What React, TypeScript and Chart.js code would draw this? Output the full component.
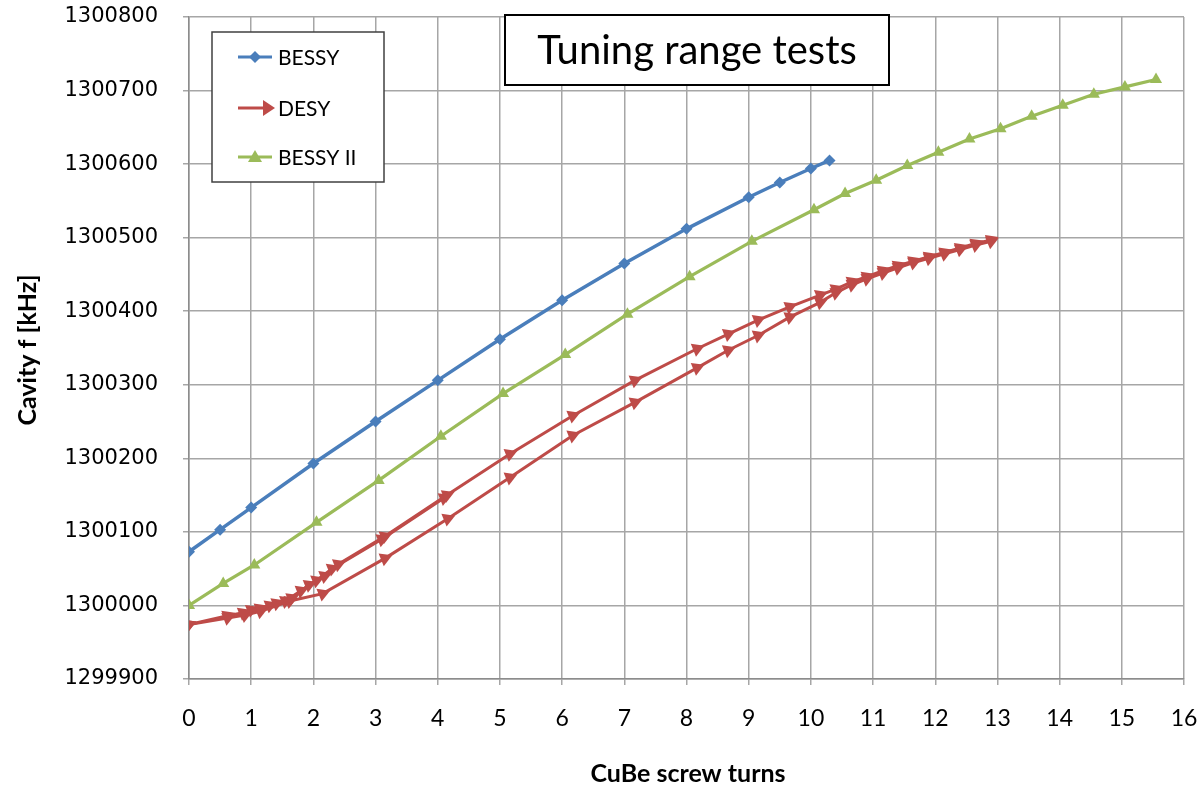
import React, { useEffect, useRef } from 'react';
import { Chart, registerables } from 'chart.js';

Chart.register(...registerables);

// ---- Data ----
const bessyX = [0, 0.5, 1.0, 2.0, 3.0, 4.0, 5.0, 6.0, 7.0, 8.0, 9.0, 9.5, 10.0, 10.3];
const bessyY = [1300073, 1300103, 1300133, 1300193, 1300250, 1300306, 1300362, 1300415, 1300465, 1300512, 1300555, 1300575, 1300594, 1300605];

const bessy2X = [0, 0.55, 1.05, 2.05, 3.05, 4.05, 5.05, 6.05, 7.05, 8.05, 9.05, 10.05, 10.55, 11.05, 11.55, 12.05, 12.55, 13.05, 13.55, 14.05, 14.55, 15.05, 15.55];
const bessy2Y = [1300000, 1300030, 1300055, 1300113, 1300170, 1300230, 1300288, 1300341, 1300396, 1300447, 1300495, 1300538, 1300560, 1300578, 1300598, 1300616, 1300634, 1300648, 1300665, 1300680, 1300695, 1300705, 1300715];

// DESY run A (upper branch)
const desyAX = [0, 0.62, 0.87, 1.14, 1.41, 1.65, 1.93, 2.18, 2.4, 3.15, 4.15, 5.16, 6.17, 7.17, 8.17, 8.67, 9.15, 9.66, 10.15, 10.4, 10.66, 10.9, 11.16, 11.4, 11.65, 11.9, 12.15, 12.4, 12.65, 12.9];
const desyAY = [1299974, 1299986, 1299990, 1299996, 1300003, 1300010, 1300028, 1300040, 1300056, 1300094, 1300150, 1300206, 1300258, 1300306, 1300349, 1300369, 1300388, 1300406, 1300422, 1300430, 1300440, 1300447, 1300455, 1300462, 1300468, 1300474, 1300480, 1300486, 1300492, 1300497];

// DESY run B (lower branch)
const desyBX = [0, 0.62, 0.9, 1.15, 1.62, 2.15, 3.15, 4.16, 5.16, 6.17, 7.17, 8.17, 8.67, 9.15, 9.66, 10.15, 10.4, 10.66, 10.9, 11.16, 11.4, 11.65, 11.9, 12.15, 12.4, 12.65, 12.9];
const desyBY = [1299974, 1299983, 1299987, 1299992, 1300006, 1300016, 1300064, 1300118, 1300174, 1300231, 1300276, 1300323, 1300347, 1300367, 1300392, 1300412, 1300425, 1300436, 1300444, 1300452, 1300459, 1300466, 1300472, 1300478, 1300484, 1300490, 1300495];

// DESY run C (short run, overlapping the start of run A)
const desyCX = [1.0, 1.3, 1.55, 1.8, 2.05, 2.3, 3.1, 4.1];
const desyCY = [1299994, 1300000, 1300006, 1300020, 1300034, 1300050, 1300090, 1300146];

const xTickMin = 0;
const xTickMax = 16;
const yTickMin = 1299900;
const yTickMax = 1300800;

const titleText = 'Tuning range tests';
const xTitle = 'CuBe screw turns';
const yTitle = 'Cavity f [kHz]';
const legendLabels = ['BESSY', 'DESY', 'BESSY II'];

const BLUE = '#4A7EBB';
const RED = '#BE4B48';
const GREEN = '#9BBB59';

const toPts = (xs: number[], ys: number[]) => xs.map((x, i) => ({ x, y: ys[i] }));

const overlay = {
  id: 'overlay',
  afterDraw(chart: any) {
    const ctx = chart.ctx as CanvasRenderingContext2D;
    ctx.save();
    // axis titles
    ctx.fillStyle = '#000';
    ctx.font = 'bold 25px Lato';
    ctx.textAlign = 'center';
    ctx.textBaseline = 'middle';
    ctx.fillText(xTitle, 688, 774);
    ctx.save();
    ctx.translate(28, 350);
    ctx.rotate(-Math.PI / 2);
    ctx.fillText(yTitle, 0, 0);
    ctx.restore();

    // title box
    ctx.fillStyle = '#fff';
    ctx.fillRect(505, 15, 384, 70);
    ctx.strokeStyle = '#000';
    ctx.lineWidth = 2;
    ctx.strokeRect(505, 15, 384, 70);
    ctx.fillStyle = '#000';
    ctx.font = '40px Lato';
    ctx.fillText(titleText, 697, 51);

    // legend box
    ctx.fillStyle = '#fff';
    ctx.fillRect(212, 32, 172, 150);
    ctx.strokeStyle = '#404040';
    ctx.lineWidth = 1.5;
    ctx.strokeRect(212, 32, 172, 150);
    const ys = [57, 108, 157];
    const cols = [BLUE, RED, GREEN];
    ys.forEach((yy, i) => {
      ctx.strokeStyle = cols[i];
      ctx.fillStyle = cols[i];
      ctx.lineWidth = 3;
      ctx.beginPath();
      ctx.moveTo(238, yy);
      ctx.lineTo(i === 1 ? 266 : 272, yy);
      ctx.stroke();
      ctx.beginPath();
      if (i === 0) {
        ctx.moveTo(255, yy - 6);
        ctx.lineTo(261, yy);
        ctx.lineTo(255, yy + 6);
        ctx.lineTo(249, yy);
      } else if (i === 1) {
        ctx.moveTo(275, yy);
        ctx.lineTo(263, yy - 8);
        ctx.lineTo(263, yy + 8);
      } else {
        ctx.moveTo(255, yy - 7);
        ctx.lineTo(262, yy + 5);
        ctx.lineTo(248, yy + 5);
      }
      ctx.closePath();
      ctx.fill();
      ctx.fillStyle = '#000';
      ctx.font = '21px Lato';
      ctx.textAlign = 'left';
      ctx.fillText(legendLabels[i], 278, yy + 1);
    });
    ctx.restore();
  },
};

const zeroPad = (s: any) => {
  s.paddingTop = 0;
  s.paddingBottom = 0;
  s.paddingLeft = 0;
  s.paddingRight = 0;
};

export default function App() {
  const canvasRef = useRef<HTMLCanvasElement | null>(null);

  useEffect(() => {
    if (!canvasRef.current) return;
    const desyStyle = {
      borderColor: RED,
      backgroundColor: RED,
      borderWidth: 3,
      pointStyle: 'triangle',
      pointRadius: 8,
      pointRotation: 68,
      pointBorderWidth: 0,
      showLine: true,
      tension: 0,
    };
    const chart = new Chart(canvasRef.current, {
      type: 'scatter',
      data: {
        datasets: [
          {
            label: 'BESSY',
            data: toPts(bessyX, bessyY),
            borderColor: BLUE,
            backgroundColor: BLUE,
            borderWidth: 3.5,
            pointStyle: 'rectRot',
            pointRadius: 6,
            pointBorderWidth: 0,
            showLine: true,
          },
          { label: 'DESY', data: toPts(desyAX, desyAY), ...desyStyle },
          { label: 'DESY run 2', data: toPts(desyBX, desyBY), ...desyStyle },
          { label: 'DESY run 3', data: toPts(desyCX, desyCY), ...desyStyle },
          {
            label: 'BESSY II',
            data: toPts(bessy2X, bessy2Y),
            borderColor: GREEN,
            backgroundColor: GREEN,
            borderWidth: 3.2,
            pointStyle: 'triangle',
            pointRadius: 7,
            pointBorderWidth: 0,
            showLine: true,
          },
        ] as any,
      },
      options: {
        animation: false,
        responsive: false,
        maintainAspectRatio: false,
        layout: { autoPadding: false, padding: { top: 17, right: 19, left: 0, bottom: 0 } },
        plugins: {
          legend: { display: false },
          tooltip: { enabled: false },
          title: { display: false },
        },
        scales: {
          x: {
            type: 'linear',
            min: xTickMin,
            max: xTickMax,
            ticks: {
              stepSize: 1,
              color: '#000',
              font: { family: 'Lato', size: 23 },
              padding: 20,
              maxRotation: 0,
            },
            grid: { color: '#a6a6a6', lineWidth: 1.5, tickLength: 6 },
            border: { color: '#8c8c8c', width: 1.5 },
            afterFit: (s: any) => { s.height = 107; zeroPad(s); },
          },
          y: {
            type: 'linear',
            min: yTickMin,
            max: yTickMax,
            ticks: {
              stepSize: 100,
              color: '#000',
              font: { family: 'DejaVu Sans', size: 21 },
              padding: 25,
              callback: (v: any) => String(v),
            },
            grid: { color: '#a6a6a6', lineWidth: 1.5, tickLength: 6 },
            border: { color: '#8c8c8c', width: 1.5 },
            afterFit: (s: any) => { s.width = 189; zeroPad(s); },
          },
        },
      } as any,
      plugins: [overlay],
    });
    return () => chart.destroy();
  }, []);

  return (
    <div style={{ position: 'fixed', left: 0, top: 0, width: 1203, height: 786, background: '#fff' }}>
      <canvas ref={canvasRef} width={1203} height={786} style={{ display: 'block' }} />
    </div>
  );
}
